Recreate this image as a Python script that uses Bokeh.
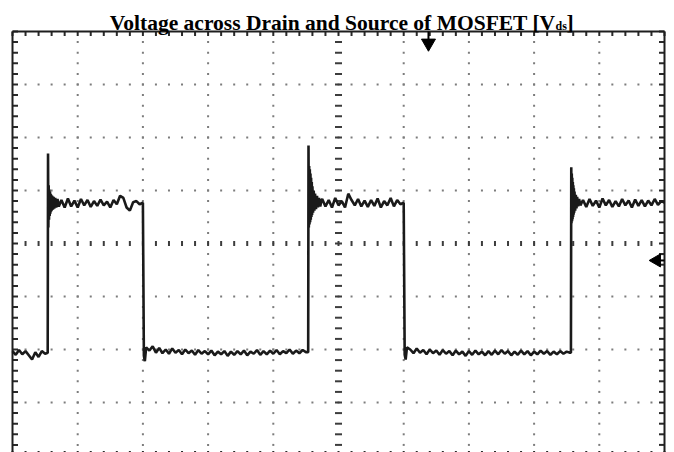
import numpy as np
from bokeh.plotting import figure
from bokeh.models import Label, Range1d
from bokeh.embed import file_html
from bokeh.resources import INLINE

# ---- data (divisions: x 0..10, y -4..4, centre = 0) ----
low1_x = [0.00, 0.05, 0.10, 0.15, 0.20, 0.25, 0.30, 0.35, 0.40, 0.45, 0.50]
low1_y = [-2.03, -2.10, -2.01, -2.09, -2.03, -2.11, -2.19, -2.05, -2.14, -2.03, -2.08]

rise1_x = [0.54, 0.545, 0.55, 0.555, 0.56, 0.565, 0.57, 0.575, 0.58, 0.585, 0.59, 0.595,
           0.60, 0.61, 0.62, 0.63, 0.64, 0.655, 0.67, 0.69, 0.71]
rise1_y = [-2.06, 1.70, 0.30, 1.10, 0.45, 1.02, 0.52, 0.98, 0.56, 0.94, 0.60, 0.92,
           0.62, 0.90, 0.64, 0.88, 0.66, 0.86, 0.68, 0.84, 0.70]

high1_x = [0.75, 0.80, 0.85, 0.90, 0.95, 1.00, 1.05, 1.10, 1.15, 1.20, 1.25, 1.30, 1.35,
           1.40, 1.45, 1.50, 1.55, 1.60, 1.65, 1.70, 1.75, 1.80, 1.85, 1.90, 1.95, 2.00]
high1_y = [0.82, 0.68, 0.85, 0.70, 0.81, 0.68, 0.84, 0.72, 0.82, 0.69, 0.80, 0.71, 0.83,
           0.72, 0.79, 0.68, 0.82, 0.74, 0.90, 0.86, 0.68, 0.62, 0.78, 0.80, 0.74, 0.77]

fall1_x = [2.015, 2.03, 2.05]
fall1_y = [-2.12, -2.22, -1.96]

low2_x = [2.10, 2.15, 2.20, 2.25, 2.30, 2.35, 2.40, 2.45, 2.50, 2.55, 2.60, 2.65, 2.70, 2.75,
          2.80, 2.85, 2.90, 2.95, 3.00, 3.05, 3.10, 3.15, 3.20, 3.25, 3.30, 3.35, 3.40, 3.45,
          3.50, 3.55, 3.60, 3.65, 3.70, 3.75, 3.80, 3.85, 3.90, 3.95, 4.00, 4.05, 4.10, 4.15,
          4.20, 4.25, 4.30, 4.35, 4.40, 4.45, 4.50]
low2_y = [-2.02, -1.94, -2.06, -1.97, -2.07, -2.00, -2.08, -1.98, -2.06, -2.01, -2.09, -2.00,
          -2.07, -2.02, -2.10, -2.01, -2.08, -2.03, -2.09, -2.02, -2.11, -2.04, -2.09, -2.03,
          -2.12, -2.04, -2.10, -2.03, -2.09, -2.02, -2.11, -2.04, -2.08, -2.01, -2.10, -2.03,
          -2.09, -2.02, -2.08, -2.01, -2.09, -2.03, -2.07, -2.00, -2.08, -2.02, -2.07, -2.01, -2.05]

rise2_x = [4.535, 4.54, 4.545, 4.55, 4.555, 4.56, 4.565, 4.57, 4.575, 4.58, 4.585, 4.59,
           4.595, 4.60, 4.61, 4.62, 4.63, 4.64, 4.655, 4.67, 4.685, 4.70, 4.72, 4.74]
rise2_y = [-2.05, 1.85, 0.30, 1.46, 0.36, 1.40, 0.40, 1.32, 0.45, 1.24, 0.50, 1.16,
           0.54, 1.08, 0.58, 1.00, 0.62, 0.94, 0.65, 0.90, 0.68, 0.86, 0.70, 0.82]

high2_x = [4.75, 4.80, 4.85, 4.90, 4.95, 5.00, 5.05, 5.10, 5.15, 5.20, 5.25, 5.30, 5.35,
           5.40, 5.45, 5.50, 5.55, 5.60, 5.65, 5.70, 5.75, 5.80, 5.85, 5.90, 5.95, 6.00]
high2_y = [0.84, 0.70, 0.82, 0.68, 0.86, 0.72, 0.80, 0.68, 0.94, 0.82, 0.72, 0.84, 0.70,
           0.81, 0.69, 0.82, 0.71, 0.85, 0.68, 0.80, 0.72, 0.86, 0.70, 0.82, 0.74, 0.77]

fall2_x = [6.015, 6.03, 6.05]
fall2_y = [-2.10, -2.19, -1.96]

low3_x = [6.10, 6.15, 6.20, 6.25, 6.30, 6.35, 6.40, 6.45, 6.50, 6.55, 6.60, 6.65, 6.70, 6.75,
          6.80, 6.85, 6.90, 6.95, 7.00, 7.05, 7.10, 7.15, 7.20, 7.25, 7.30, 7.35, 7.40, 7.45,
          7.50, 7.55, 7.60, 7.65, 7.70, 7.75, 7.80, 7.85, 7.90, 7.95, 8.00, 8.05, 8.10, 8.15,
          8.20, 8.25, 8.30, 8.35, 8.40, 8.45, 8.50, 8.55]
low3_y = [-2.00, -2.07, -1.98, -2.06, -2.01, -2.09, -2.00, -2.07, -2.02, -2.10, -2.01, -2.08,
          -2.03, -2.11, -2.02, -2.09, -2.04, -2.12, -2.03, -2.10, -2.02, -2.09, -2.04, -2.11,
          -2.03, -2.10, -2.02, -2.09, -2.01, -2.08, -2.03, -2.11, -2.04, -2.10, -2.02, -2.09,
          -2.03, -2.11, -2.04, -2.09, -2.02, -2.08, -2.03, -2.10, -2.04, -2.09, -2.03, -2.08,
          -2.04, -2.06]

rise3_x = [8.565, 8.57, 8.574, 8.578, 8.582, 8.586, 8.59, 8.594, 8.598, 8.602, 8.606, 8.61,
           8.615, 8.62, 8.63, 8.64, 8.65, 8.66, 8.675, 8.69, 8.71]
rise3_y = [-2.06, 1.44, 0.38, 1.32, 0.42, 1.24, 0.46, 1.16, 0.50, 1.10, 0.54, 1.04,
           0.58, 0.98, 0.62, 0.92, 0.66, 0.88, 0.70, 0.84, 0.72]

high3_x = [8.75, 8.80, 8.85, 8.90, 8.95, 9.00, 9.05, 9.10, 9.15, 9.20, 9.25, 9.30, 9.35,
           9.40, 9.45, 9.50, 9.55, 9.60, 9.65, 9.70, 9.75, 9.80, 9.85, 9.90, 9.95, 10.00]
high3_y = [0.82, 0.69, 0.84, 0.71, 0.81, 0.68, 0.85, 0.72, 0.82, 0.69, 0.80, 0.70, 0.84,
           0.72, 0.81, 0.68, 0.83, 0.71, 0.82, 0.70, 0.81, 0.72, 0.84, 0.73, 0.80, 0.77]

trigger_x, trigger_y = 6.38, 3.78      # trigger marker (top)
level_x, level_y = 9.88, -0.32         # trigger level marker (right)

title_main = "Voltage across Drain and Source of MOSFET [V"
title_sub = "ds"
title_end = "]"

# ---- figure: frame covers whole canvas; graticule 0..10 x -4..4 ----
PXD = 65.2   # px per x division
PYD = 53.0   # px per y division
X0 = -12 / PXD
X1 = 10 + 10 / PXD
Y1 = 4 + 31 / PYD
Y0 = Y1 - 452 / PYD

p = figure(width=674, height=452, output_backend="svg", toolbar_location=None,
           x_range=Range1d(X0, X1), y_range=Range1d(Y0, Y1),
           min_border_left=0, min_border_right=0, min_border_top=0, min_border_bottom=0,
           title=None)
p.xaxis.visible = False
p.yaxis.visible = False
p.xgrid.visible = False
p.ygrid.visible = False
p.outline_line_color = None
p.background_fill_color = "white"
p.border_fill_color = "white"

# graticule dots
step = 0.2
xs_fine = np.round(np.arange(0, 10 + 1e-9, step), 3)
ys_fine = np.round(np.arange(-4, 4 + 1e-9, step), 3)
dx, dy = [], []
for gx in [1, 2, 3, 4, 6, 7, 8, 9]:
    for yy in ys_fine[1:-1]:
        dx.append(gx); dy.append(yy)
for gy in [-3, -2, -1, 1, 2, 3]:
    for xx in xs_fine[1:-1]:
        dx.append(xx); dy.append(gy)
p.rect(dx, dy, width=2, height=2, width_units="screen", height_units="screen",
       fill_color="#7c7c7c", line_color=None)

# centre axes with tick marks
p.rect(list(xs_fine[1:-1]), [0] * (len(xs_fine) - 2), width=2, height=5, width_units="screen",
       height_units="screen", fill_color="#3c3c3c", line_color=None)
p.rect([5] * (len(ys_fine) - 2), list(ys_fine[1:-1]), width=7, height=2, width_units="screen",
       height_units="screen", fill_color="#3c3c3c", line_color=None)

# border ticks (inside)
tl_y = 4.5 / PYD
tl_x = 5.5 / PXD
p.rect(list(xs_fine), [4 - tl_y / 2] * len(xs_fine), width=2, height=tl_y,
       width_units="screen", fill_color="#2a2a2a", line_color=None)
p.rect(list(xs_fine), [-4 + tl_y / 2] * len(xs_fine), width=2, height=tl_y,
       width_units="screen", fill_color="#2a2a2a", line_color=None)
p.rect([tl_x / 2] * len(ys_fine), list(ys_fine), width=tl_x, height=2,
       height_units="screen", fill_color="#2a2a2a", line_color=None)
p.rect([10 - tl_x / 2] * len(ys_fine), list(ys_fine), width=tl_x, height=2,
       height_units="screen", fill_color="#2a2a2a", line_color=None)

# border lines
p.segment(x0=[0, 0, 10, 0], y0=[-4, 4, -4, -4], x1=[0, 10, 10, 10], y1=[4, 4, 4, -4],
          line_color="#1e1e1e", line_width=2)

# waveform
wx = low1_x + rise1_x + high1_x + fall1_x + low2_x + rise2_x + high2_x + fall2_x + low3_x + rise3_x + high3_x
wy = low1_y + rise1_y + high1_y + fall1_y + low2_y + rise2_y + high2_y + fall2_y + low3_y + rise3_y + high3_y
p.line(wx, wy, line_color="#1a1a1a", line_width=2.6)

# markers
p.scatter([trigger_x], [trigger_y], marker="inverted_triangle", size=14,
          fill_color="black", line_color="black")
p.segment(x0=[trigger_x], y0=[4], x1=[trigger_x], y1=[trigger_y], line_color="black", line_width=2)
p.scatter([level_x], [level_y], marker="triangle", angle=np.pi / 2, size=13,
          fill_color="black", line_color="black")
p.segment(x0=[level_x], y0=[level_y], x1=[10], y1=[level_y], line_color="black", line_width=2)

# title (V_ds with subscript)
def sx(px):
    return (px - 12) / PXD

def sy(py):
    return 4 + (31 - py) / PYD

p.add_layout(Label(x=sx(555), y=sy(22), text=title_main,
                   text_font="Liberation Serif", text_font_style="bold", text_font_size="21.5px",
                   text_color="black", text_baseline="alphabetic", text_align="right"))
p.add_layout(Label(x=sx(555), y=sy(25), text=title_sub,
                   text_font="Liberation Serif", text_font_style="bold", text_font_size="12px",
                   text_color="black", text_baseline="alphabetic", text_align="left"))
p.add_layout(Label(x=sx(566), y=sy(22), text=title_end,
                   text_font="Liberation Serif", text_font_style="bold", text_font_size="21.5px",
                   text_color="black", text_baseline="alphabetic", text_align="left"))

open("out.html", "w").write(file_html(p, INLINE))
